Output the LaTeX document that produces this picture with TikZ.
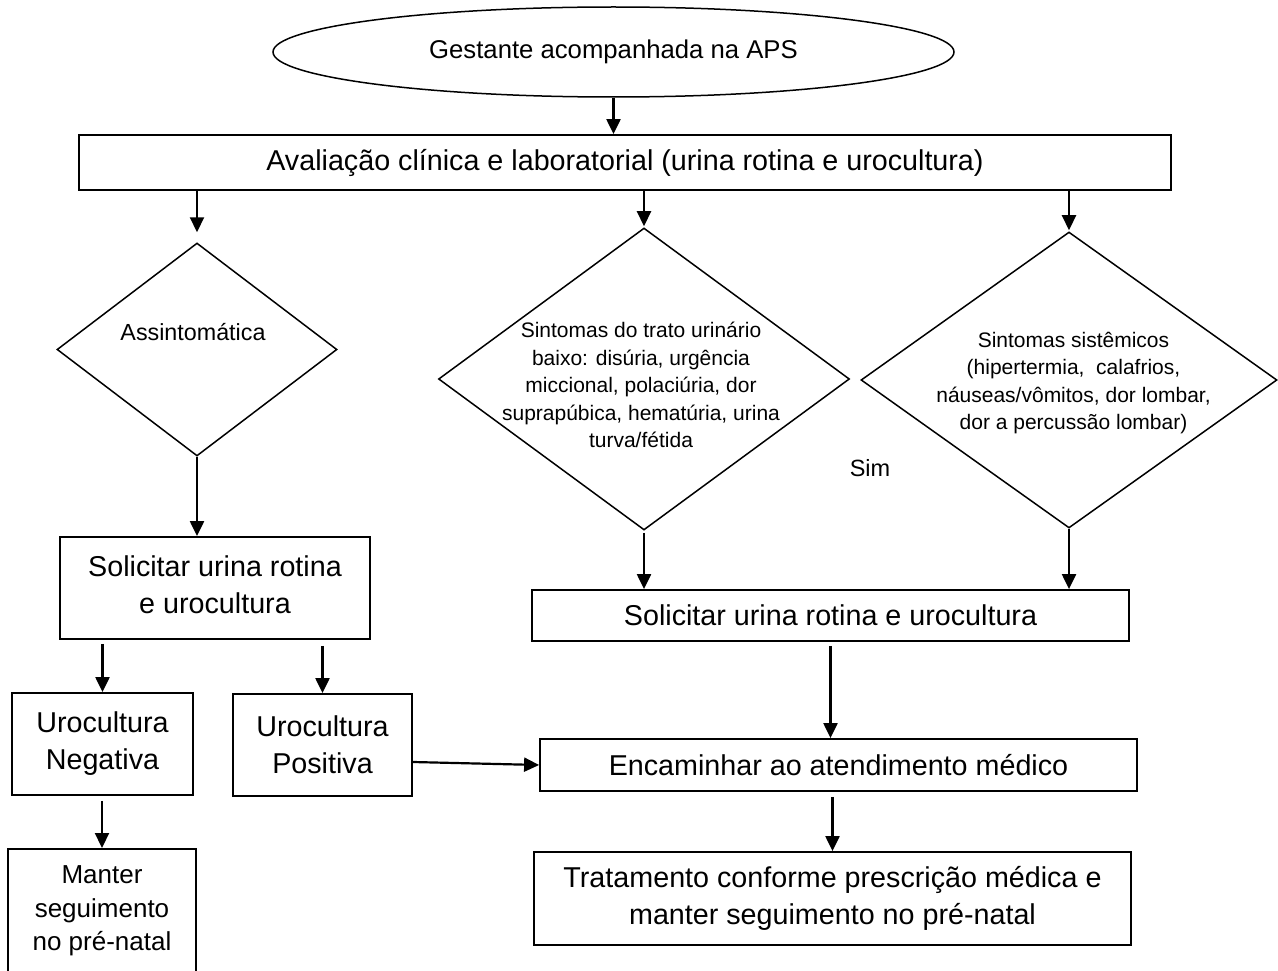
\documentclass[tikz,border=0pt]{standalone}
\usepackage{fontspec}
\setmainfont{Liberation Sans}
\usetikzlibrary{shapes.geometric,arrows.meta}

\newcommand{\fsz}[2]{\fontsize{#1}{#2}\selectfont}

\tikzset{
  box/.style={draw, line width=1.8pt, inner sep=0pt, align=center,
              font=\fsz{28.7}{37}},
  dia/.style={draw, diamond, line width=1.5pt, inner sep=0pt},
  txt/.style={inner sep=0pt, align=center, font=\fsz{21}{27.5}},
  arr/.style={line width=2.2pt, -{Triangle[length=15pt,width=14pt]}},
}

\begin{document}
\begin{tikzpicture}[x=1pt,y=-1pt]
  \useasboundingbox (0,0) rectangle (1278,971);
  \clip (0,0) rectangle (1278,971);

  % start
  \node[draw, ellipse, line width=1.5pt, inner sep=0pt,
        minimum width=681pt, minimum height=90pt,
        font=\fsz{25.7}{30}] (ell) at (613.5,52) {Gestante acompanhada na APS};

  % first assessment
  \node[box, minimum width=1092pt, minimum height=55pt] (b1) at (625,162.5)
    {Avaliação clínica e laboratorial (urina rotina e urocultura)};

  % decisions
  \node[dia, minimum width=280pt, minimum height=213pt] (dA) at (197,349.5) {};
  \node[inner sep=0pt, font=\fsz{23.3}{28}] (dAt) at (193,331.7) {Assintomática};

  \node[dia, minimum width=411pt, minimum height=302pt] (d1) at (644,379) {};
  \node[txt] (d1t) at (641,385) {Sintomas do trato urinário\\baixo: disúria, urgência\\miccional, polaciúria, dor\\suprapúbica, hematúria, urina\\turva/fétida};

  \node[dia, minimum width=416pt, minimum height=296pt] (d2) at (1069,380) {};
  \node[txt] (d2t) at (1073.5,383) {Sintomas sistêmicos\\(hipertermia,\ \ calafrios,\\náuseas/vômitos, dor lombar,\\dor a percussão lombar)};

  \node[inner sep=0pt, font=\fsz{23.5}{28}] (sim) at (870,468) {Sim};

  % left branch
  \node[box, minimum width=310pt, minimum height=102pt] (sL) at (215,588) {};
  \node[inner sep=0pt, align=center, font=\fsz{28.7}{37}] (sLt) at (215,585)
    {Solicitar urina rotina\\e urocultura};
  \node[box, minimum width=181pt, minimum height=102pt] (neg) at (102.5,744)
    {Urocultura\\Negativa};
  \node[box, minimum width=179pt, minimum height=102pt] (pos) at (322.5,745)
    {Urocultura\\Positiva};
  \node[box, minimum width=188pt, minimum height=160pt, anchor=north] (man) at (102,848) {};
  \node[inner sep=0pt, align=center, font=\fsz{26}{33.5}] (mant) at (102,911)
    {Manter\\seguimento\\no pré-natal};

  % right branch
  \node[box, minimum width=597pt, minimum height=51pt] (sR) at (830.5,615.5)
    {Solicitar urina rotina e urocultura};
  \node[box, minimum width=597pt, minimum height=52pt] (enc) at (838.5,765)
    {Encaminhar ao atendimento médico};
  \node[box, minimum width=597pt, minimum height=93pt] (trat) at (832.5,898.5)
    {Tratamento conforme prescrição médica e\\manter seguimento no pré-natal};

  % connectors
  \draw[arr] (ell.south) -- (ell.south |- b1.north);
  \draw[arr, shorten >=10pt] (b1.south -| dA.north) -- (dA.north);
  \draw[arr, shorten >=1pt] (b1.south -| d1.north) -- (d1.north);
  \draw[arr, shorten >=1pt] (b1.south -| d2.north) -- (d2.north);
  \draw[arr] (dA.south) -- (dA.south |- sL.north);
  \draw[arr, shorten <=2pt] (d1.south) -- (d1.south |- sR.north);
  \draw[arr] (d2.south) -- (d2.south |- sR.north);
  \draw[arr, shorten <=4pt] (sL.south -| neg.north) -- (neg.north);
  \draw[arr, shorten <=6pt] (sL.south -| pos.north) -- (pos.north);
  \draw[arr, shorten <=5pt] (neg.south -| man.north) -- (man.north);
  \draw[arr] ([yshift=-17pt]pos.east) -- (enc.west);
  \draw[arr, shorten <=4pt] (sR.south) -- (sR.south |- enc.north);
  \draw[arr, shorten <=5pt] (trat.north |- enc.south) -- (trat.north);
\end{tikzpicture}
\end{document}
